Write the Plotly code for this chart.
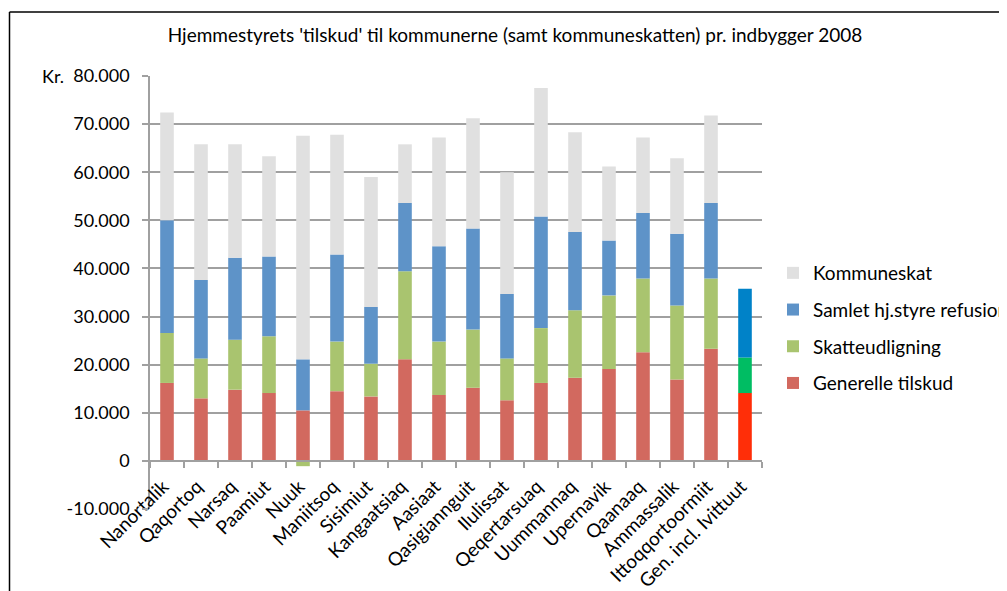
import plotly.graph_objects as go

categories = ["Nanortalik", "Qaqortoq", "Narsaq", "Paamiut", "Nuuk", "Maniitsoq",
              "Sisimiut", "Kangaatsiaq", "Aasiaat", "Qasigiannguit", "Ilulissat",
              "Qeqertarsuaq", "Uummannaq", "Upernavik", "Qaanaaq", "Ammassalik",
              "Ittoqqortoormiit", "Gen. incl. Ivittuut"]

generelle_tilskud = [16200, 13000, 14800, 14100, 10500, 14500, 13400, 21100, 13700,
                     15200, 12600, 16200, 17300, 19100, 22600, 16900, 23300, 14100]
skatteudligning = [10400, 8300, 10400, 11800, -1100, 10300, 6800, 18300, 11100,
                   12100, 8700, 11400, 14000, 15300, 15300, 15400, 14600, 7400]
samlet_refusion = [23400, 16300, 17000, 16600, 10600, 18100, 11800, 14200, 19800,
                   21000, 13400, 23200, 16300, 11400, 13600, 14900, 15700, 14300]
kommuneskat = [22400, 28200, 23600, 20800, 46500, 24900, 27000, 12200, 22600,
               22900, 25300, 26700, 20700, 15400, 15700, 15700, 18200, 0]

y_tick_values = [-10000, 0, 10000, 20000, 30000, 40000, 50000, 60000, 70000, 80000]
y_tick_labels = ["-10.000", "0", "10.000", "20.000", "30.000", "40.000",
                 "50.000", "60.000", "70.000", "80.000"]

title_text = "Hjemmestyrets 'tilskud' til kommunerne (samt kommuneskatten) pr. indbygger 2008"

FONT = "Lato"
n = len(categories)


def colors(normal, last):
    return [normal] * (n - 1) + [last]


series = [
    ("Generelle tilskud", generelle_tilskud, colors("#D2695F", "#FF2E08"), 4),
    ("Skatteudligning", skatteudligning, colors("#A9C46F", "#00BD63"), 3),
    ("Samlet hj.styre refusion", samlet_refusion, colors("#5E93C8", "#0082C8"), 2),
    ("Kommuneskat", kommuneskat, colors("#E0E0E0", "#E0E0E0"), 1),
]

fig = go.Figure()
for name, vals, cols, rank in series:
    fig.add_trace(go.Bar(
        x=categories, y=vals, name=name, legendgroup=name, legendrank=rank,
        marker=dict(color=cols, line=dict(width=0)),
    ))

# page has an 8px body margin; work in page pixel coordinates
OFF = 8
W, H = 1007, 591
L, R, T, B = 150, 762, 76, 509   # plot area in page pixels


def px(x):
    return (x - L) / (R - L)


def py(y):
    return (B - y) / (B - T)


fig.update_layout(
    width=W - OFF, height=H - OFF,
    barmode="relative", bargap=0.6,
    margin=dict(l=L - OFF, r=W - R, t=T - OFF, b=H - B, autoexpand=False),
    paper_bgcolor="white", plot_bgcolor="white",
    font=dict(family=FONT, size=17, color="black"),
    title=dict(text=title_text, x=px(515), xref="paper", xanchor="center",
               y=1 - (35 - OFF) / (H - OFF), yref="container", yanchor="middle",
               font=dict(family=FONT, size=19, color="black")),
    showlegend=True,
    legend=dict(x=px(773), xanchor="left", y=py(254), yanchor="top",
                traceorder="grouped", tracegroupgap=9,
                font=dict(family=FONT, size=19, color="black"),
                bgcolor="rgba(0,0,0,0)"),
    xaxis=dict(type="category", anchor="free", position=py(461.3),
               showline=True, linecolor="#A0A0A0", linewidth=1.5,
               ticks="outside", tickson="boundaries", ticklen=6,
               tickcolor="#A0A0A0", tickwidth=1.5,
               tickangle=-45, showgrid=False,
               ticklabelstandoff=6, ticklabelshift=-4,
               tickfont=dict(family=FONT, size=19, color="black")),
    yaxis=dict(range=[-10000, 80000], tickvals=y_tick_values, ticktext=y_tick_labels,
               showline=True, linecolor="#A0A0A0", linewidth=1.5,
               ticks="outside", ticklen=6, tickcolor="#A0A0A0", tickwidth=1.5,
               ticklabelstandoff=9,
               showgrid=True, gridcolor="#A0A0A0", gridwidth=1.5,
               zeroline=False,
               tickfont=dict(family=FONT, size=18, color="black")),
)

fig.add_annotation(text="Kr.", xref="paper", yref="paper",
                   x=px(66), y=1, xanchor="right", yanchor="middle",
                   showarrow=False, font=dict(family=FONT, size=18, color="black"))

# outer chart frame (top and left edges visible)
fx = px(9.5)
fy = py(12)
fig.add_shape(type="line", xref="paper", yref="paper", x0=fx, x1=px(W + 20),
              y0=fy, y1=fy, line=dict(color="black", width=1.5))
fig.add_shape(type="line", xref="paper", yref="paper", x0=fx, x1=fx,
              y0=fy, y1=py(H + 20), line=dict(color="black", width=1.5))

fig.write_html("out.html")
